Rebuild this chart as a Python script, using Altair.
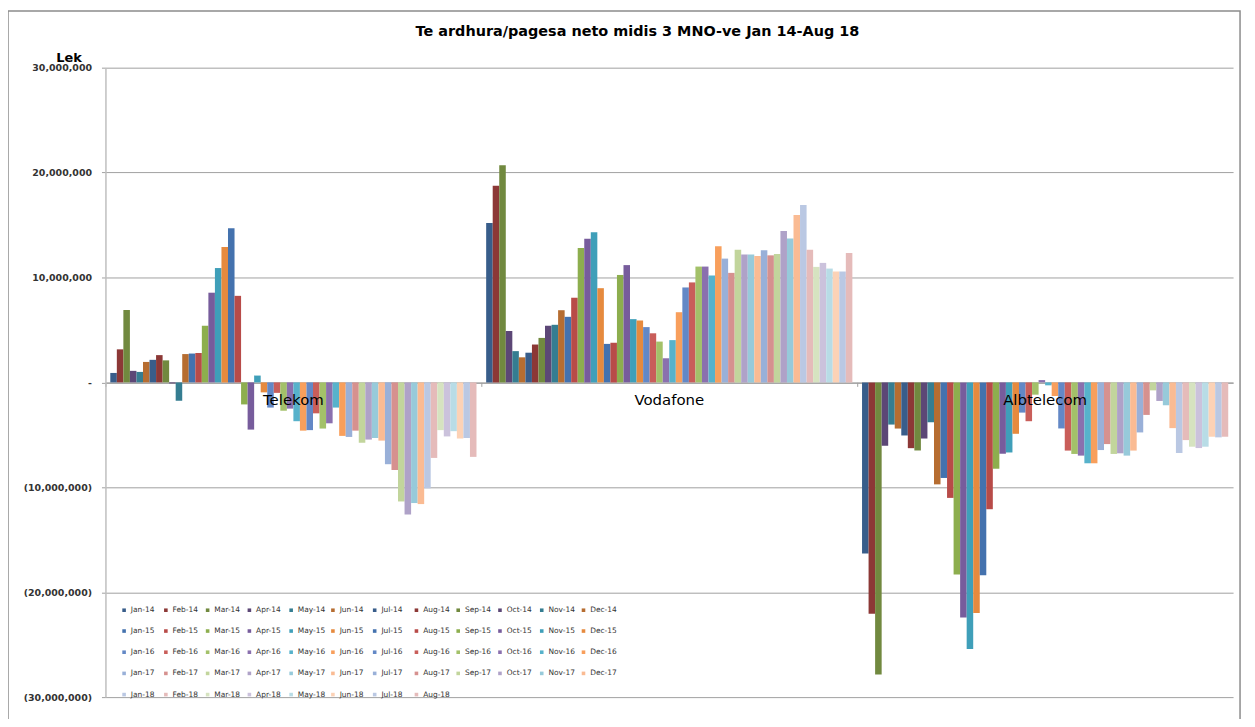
import altair as alt
import pandas as pd

# ---------------- data ----------------
operators = ["Telekom", "Vodafone", "Albtelecom"]

years = ["14", "15", "16", "17", "18"]
month_names = ["Jan", "Feb", "Mar", "Apr", "May", "Jun",
               "Jul", "Aug", "Sep", "Oct", "Nov", "Dec"]
months = []
for y in years:
    for i, m in enumerate(month_names):
        if y == "18" and i > 7:
            break
        months.append(f"{m}-{y}")

# values in million Lek
telekom = [0.9, 3.15, 6.9, 1.1, 1.0, 1.95, 2.15, 2.6, 2.1, -0.1, -1.75, 2.7,
           2.75, 2.8, 5.4, 8.55, 10.9, 12.9, 14.7, 8.25, -2.1, -4.5, 0.65, -0.95,
           -2.4, -1.0, -2.7, -2.5, -3.7, -4.6, -4.55, -2.95, -4.4, -3.9, -2.4, -5.1,
           -5.2, -4.6, -5.75, -5.45, -5.3, -5.55, -7.8, -8.35, -11.35, -12.6, -11.5, -11.6,
           -10.1, -7.2, -4.55, -5.15, -4.65, -5.35, -5.3, -7.1]
vodafone = [15.2, 18.75, 20.7, 4.9, 2.98, 2.39, 2.83, 3.61, 4.24, 5.4, 5.49, 6.88,
            6.25, 8.07, 12.81, 13.69, 14.32, 8.98, 3.67, 3.77, 10.24, 11.18, 6.03, 5.9,
            5.27, 4.68, 3.89, 2.3, 4.03, 6.69, 9.05, 9.53, 11.04, 11.04, 10.19, 12.97,
            11.8, 10.44, 12.65, 12.18, 12.18, 12.05, 12.59, 12.11, 12.24, 14.42, 13.72, 15.96,
            16.91, 12.65, 11.01, 11.39, 10.85, 10.57, 10.57, 12.33]
albtelecom = [-16.3, -22.06, -27.85, -6.04, -4.02, -4.4, -5.06, -6.27, -6.49, -5.35, -3.8, -9.72,
              -9.11, -11.01, -18.32, -22.41, -25.41, -21.99, -18.39, -12.09, -8.23, -6.8, -6.68, -4.9,
              -2.88, -3.7, -1.17, 0.22, -0.28, -1.3, -4.39, -6.5, -6.82, -6.98, -7.71, -7.71,
              -6.45, -5.88, -6.82, -6.76, -6.98, -6.5, -4.77, -3.1, -0.76, -1.77, -2.18, -4.36,
              -6.73, -5.5, -6.13, -6.26, -6.13, -5.18, -5.24, -5.18]

y_ticks = [-30000000, -20000000, -10000000, 0, 10000000, 20000000, 30000000]

palette_by_year = [
    ["#385D8A", "#8C3836", "#71893F", "#5C4776", "#357D91", "#B66D31"],
    ["#4472AE", "#B84B48", "#8DAE4E", "#775C9C", "#3F9FB9", "#E68A3E"],
    ["#6388C6", "#C95E5A", "#A3C169", "#8A70AE", "#57B2CB", "#F89F5C"],
    ["#99B0D8", "#D6918F", "#C2D59C", "#AFA2C8", "#97CADA", "#FABB93"],
    ["#BAC8E3", "#E5BBBA", "#D6E3C0", "#CBC2DC", "#B8DCE6", "#FCD2B6"],
]
colors = [palette_by_year[k // 12][k % 6] for k in range(len(months))]

rows = []
for op, vals in zip(operators, [telekom, vodafone, albtelecom]):
    for m, v in zip(months, vals):
        rows.append({"operator": op, "month": m, "value": v * 1_000_000})
df = pd.DataFrame(rows)
cat_df = pd.DataFrame({"operator": operators})
frame_df = pd.DataFrame({"f": [0]})

FONT = "DejaVu Sans"

x_enc = alt.X("operator:N", sort=operators,
              scale=alt.Scale(paddingInner=0, paddingOuter=0),
              axis=alt.Axis(title=None, labels=False, grid=False, domain=True,
                            domainColor="#A0A0A0", domainWidth=1, ticks=True,
                            tickColor="#A0A0A0", tickSize=4, bandPosition=0,
                            offset=-316.5, zindex=0))

y_enc = alt.Y("value:Q",
              scale=alt.Scale(domain=[-30000000, 30000000], nice=False),
              axis=alt.Axis(values=y_ticks, grid=True, gridColor="#A0A0A0", gridWidth=1,
                            domainColor="#BFBFBF", domainWidth=1.5,
                            tickColor="#A0A0A0", tickSize=4, labelPadding=10,
                            labelFont=FONT, labelFontSize=9.5, labelFontWeight="bold",
                            labelColor="#333333",
                            labelExpr="datum.value == 0 ? '-' : (datum.value < 0 ? '(' + format(-datum.value, ',') + ')' : format(datum.value, ','))",
                            title="Lek", titleAngle=0, titleX=-50, titleY=-6,
                            titleAlign="left", titleBaseline="alphabetic",
                            titleFont=FONT, titleFontSize=13, titleFontWeight="bold",
                            titleColor="black"))

bars = alt.Chart(df).mark_bar(cornerRadius=0).encode(
    x=x_enc,
    xOffset=alt.XOffset("month:N", sort=months,
                        scale=alt.Scale(paddingInner=0, paddingOuter=0.74)),
    y=y_enc,
    color=alt.Color("month:N", sort=months,
                    scale=alt.Scale(domain=months, range=colors),
                    legend=alt.Legend(orient="none", legendX=15, legendY=541.5,
                                      direction="horizontal", columns=12,
                                      symbolLimit=0,
                                      symbolType="square", symbolSize=13,
                                      symbolStrokeWidth=0, labelFont=FONT,
                                      labelFontSize=7.5, labelColor="#333333",
                                      columnPadding=3, rowPadding=12.3,
                                      gridAlign="all", labelOffset=3, padding=0,
                                      labelLimit=100),
                    title=None),
)

labels = alt.Chart(cat_df).mark_text(font=FONT, fontSize=15, baseline="middle",
                                     dy=18, color="black").encode(
    x=alt.X("operator:N", sort=operators),
    y=alt.datum(0),
    text="operator:N",
)

frame = alt.Chart(frame_df).mark_rect(filled=False, stroke="#8C8C8C", strokeWidth=1.5).encode(
    x=alt.value(-98), x2=alt.value(1141), y=alt.value(-57), y2=alt.value(700)
)

chart = alt.layer(frame, bars, labels).properties(
    width=1134, height=633,
    title=alt.TitleParams(text="Te ardhura/pagesa neto midis 3 MNO-ve Jan 14-Aug 18",
                          font=FONT, fontSize=14.5, fontWeight="bold", color="black",
                          anchor="middle", dx=-32, dy=29, offset=0),
    autosize=alt.AutoSizeParams(type="none"),
    padding={"left": 98, "top": 58, "right": 14, "bottom": 20},
).configure_view(stroke=None)

chart.save("out.html", embed_options={"renderer": "svg", "actions": False})
